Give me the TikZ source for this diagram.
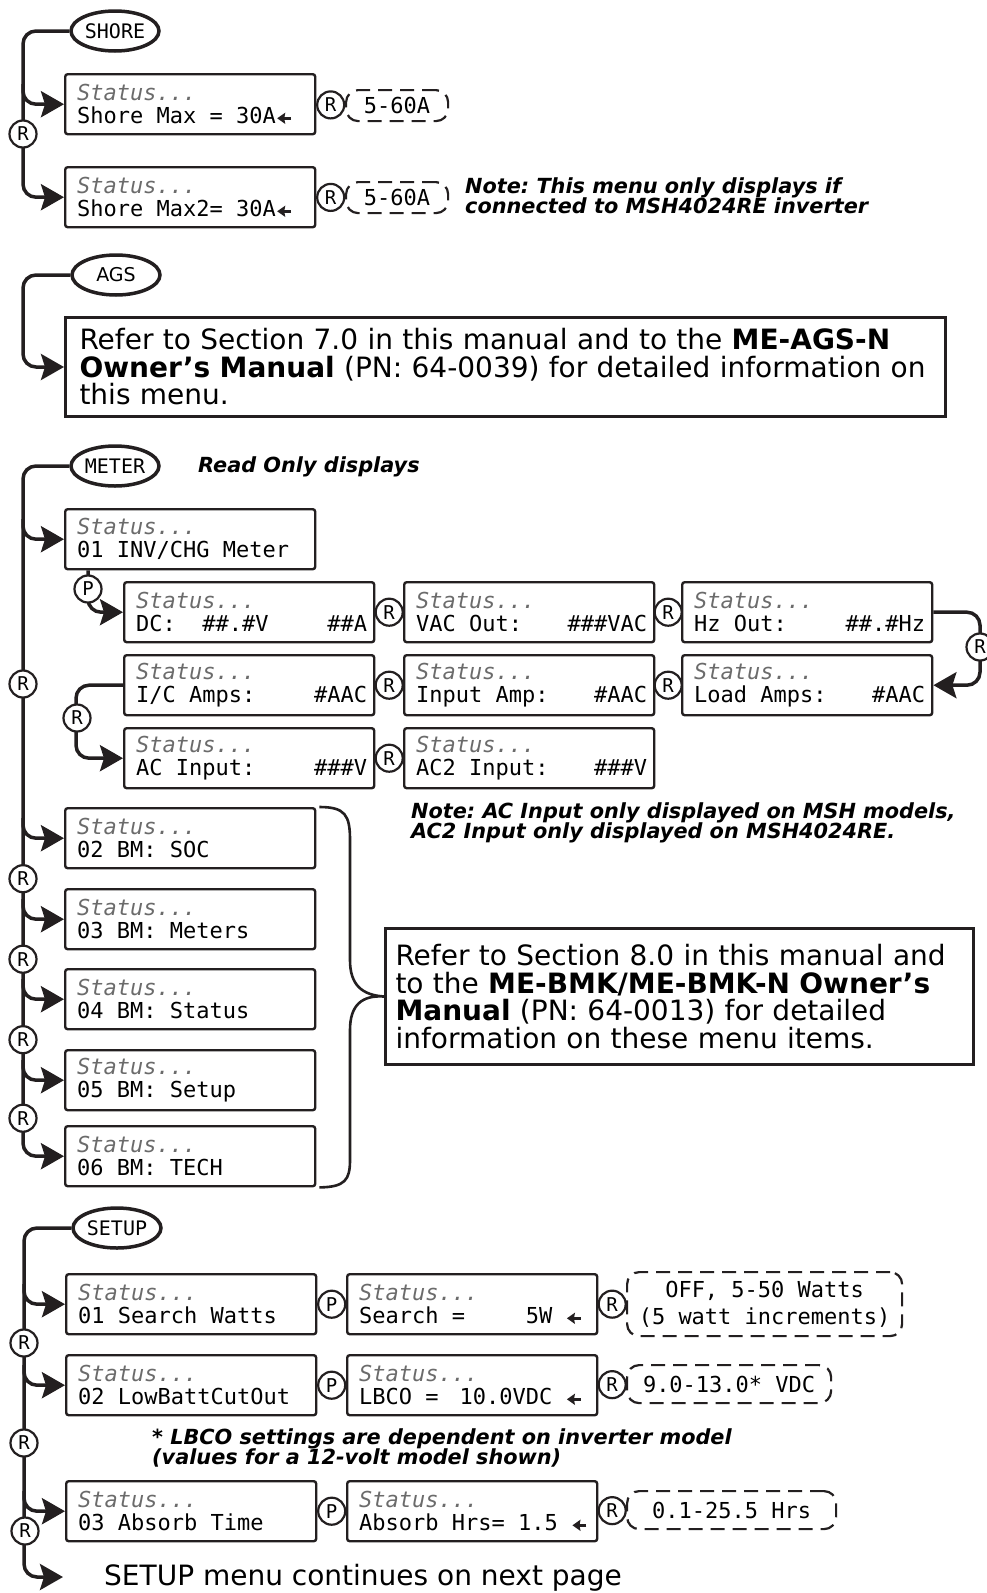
\documentclass[tikz,border=0pt]{standalone}
\usepackage{fontspec}
\setmainfont{DejaVu Sans}
\newfontfamily\lcd{DejaVu Sans Mono}
\newfontfamily\notefont{DejaVu Sans}
\usetikzlibrary{arrows.meta}
\usetikzlibrary{shapes.geometric}
\usetikzlibrary{calc}
\definecolor{ink}{HTML}{231F20}
\definecolor{stgray}{gray}{0.42}
\newcommand{\fixsp}{\spaceskip=13.25pt\xspaceskip=13.25pt\relax}
\newcommand{\statln}[1]{{\color{stgray}\itshape Status...}\\\fixsp#1}
\newcommand{\larr}{\tikz[baseline=-0.45ex]\draw[ink, line width=2.6pt, -{Stealth[length=8pt,width=11pt,inset=1pt]}] (14pt,0pt) -- (0pt,0pt);}
\newcommand{\lcdsize}{\lcd\fontsize{22}{23}\selectfont\frenchspacing}
\tikzset{stbox/.style = {draw=ink, line width=2.4pt, rounded corners=2.5pt,
                         anchor=north west, minimum width=250pt, minimum height=60pt,
                         text width=226pt, inner xsep=12pt, inner ysep=0pt,
                         align=left, font=\lcdsize}}
\tikzset{menu/.style = {draw=ink, ellipse, line width=3.5pt, minimum width=88pt,
                        minimum height=40pt, inner sep=0pt,
                        font=\lcd\fontsize{20}{20}\selectfont}}
\tikzset{btn/.style = {draw=ink, circle, fill=white, line width=2.2pt,
                       minimum size=27pt, inner sep=0pt,
                       font=\lcd\fontsize{19}{19}\selectfont}}
\tikzset{rngbox/.style = {draw=ink, dash pattern=on 14pt off 8pt, line width=2.2pt,
                          rounded corners=12pt, anchor=north west, inner sep=0pt,
                          align=center, font=\lcdsize\fontsize{22}{27}\selectfont}}
\tikzset{referbox/.style = {draw=ink, line width=3pt, anchor=north west,
                            inner xsep=14pt, inner ysep=0pt, align=left,
                            font=\fontsize{28}{27.5}\selectfont\frenchspacing}}
\tikzset{notetext/.style = {anchor=north west, inner sep=0pt, align=left,
                            font=\notefont\bfseries\itshape\fontsize{20.8}{20.5}\selectfont\frenchspacing}}
\tikzset{conn/.style = {draw=ink, line width=3.5pt, rounded corners=13pt}}
\tikzset{arr/.style = {-{Stealth[length=23pt,width=26pt,inset=4pt]}}}
\tikzset{brace/.style = {draw=ink, line width=2.6pt}}

\begin{document}
\begin{tikzpicture}[x=1pt,y=-1pt]
  \useasboundingbox (0,0) rectangle (987,1593);

  % SHORE
  \coordinate (sh0) at (23,0);
  \node[menu] (shore) at (115,31) {SHORE};
  \node[stbox] (shmax)  at (64,73)  {\statln{Shore Max = 30A\larr}};
  \node[stbox] (shmaxb) at (64,166) {\statln{Shore Max2= 30A\larr}};
  \node[rngbox, minimum width=102pt, minimum height=31pt] (shrng)  at (345,89)  {5-60A};
  \node[rngbox, minimum width=102pt, minimum height=31pt] (shrngb) at (345,181) {5-60A};
  \draw[conn, arr] (shore.west) -| (shmaxb.west -| sh0) -- (shmaxb.west);
  \draw[conn, arr] ($(shmax.west -| sh0)+(0,-20)$) |- (shmax.west);
  \node[btn] (shr) at (23,134) {R};
  \node[btn] (shra) at ($(shmax.east)!0.5!(shrng.west)$) {R};
  \node[btn] (shrb) at ($(shmaxb.east)!0.5!(shrngb.west)$) {R};
  \node[notetext] (shnote) at (465,177) {Note: This menu only displays if\\connected to MSH4024RE inverter};

  % AGS
  \node[menu, font=\fontsize{19}{19}\selectfont] (ags) at (116,275) {AGS};
  \node[referbox, minimum width=880pt, minimum height=99pt, text width=852pt] (agsref) at (64,316)
    {Refer to Section 7.0 in this manual and to the \textbf{ME-AGS-N}\\
     \textbf{Owner’s Manual} (PN: 64-0039) for detailed information on\\
     this menu.};
  \draw[conn, arr] (ags.west) -| (agsref.west -| sh0) -- (agsref.west);

  % METER
  \coordinate (mt0) at (23,0);
  \node[menu] (meter) at (115,466) {METER};
  \node[notetext, anchor=west] (ronly) at (198,467) {Read Only displays};
  \node[stbox] (inv)   at (64,508)   {\statln{01 INV/CHG Meter}};
  \node[stbox] (dc)    at (123,581)  {\statln{DC:\ \ \#\#.\#V\hfill\#\#A\kern-5pt}};
  \node[stbox] (vac)   at (403,581)  {\statln{VAC Out:\hfill\#\#\#VAC\kern-5pt}};
  \node[stbox] (hz)    at (681,581)  {\statln{Hz Out:\hfill\#\#.\#Hz\kern-5pt}};
  \node[stbox] (ica)   at (123,654)  {\statln{I/C Amps:\hfill\#AAC\kern-5pt}};
  \node[stbox] (inamp) at (403,654)  {\statln{Input Amp:\hfill\#AAC\kern-5pt}};
  \node[stbox] (load)  at (681,654)  {\statln{Load Amps:\hfill\#AAC\kern-5pt}};
  \node[stbox] (aci)   at (123,727)  {\statln{AC Input:\hfill\#\#\#V\kern-5pt}};
  \node[stbox] (ac2)   at (403,727)  {\statln{AC2 Input:\hfill\#\#\#V\kern-5pt}};
  \node[stbox] (soc)   at (64,807)   {\statln{02 BM: SOC}};
  \node[stbox] (bmm)   at (64,888)   {\statln{03 BM: Meters}};
  \node[stbox] (bms)   at (64,968)   {\statln{04 BM: Status}};
  \node[stbox] (bmset) at (64,1049)  {\statln{05 BM: Setup}};
  \node[stbox] (tech)  at (64,1125)  {\statln{06 BM: TECH}};
  \draw[conn, arr] (meter.west) -| (tech.west -| mt0) -- (tech.west);
  \foreach \b in {inv,soc,bmm,bms,bmset}
    \draw[conn, arr] ($(\b.west -| mt0)+(0,-20)$) |- (\b.west);
  \draw[conn, arr] ($(inv.south west)+(24,0)$) |- (dc.west);
  \node[btn] (pinv) at (88,589) {P};
  \coordinate (hzr) at (980,0);
  \draw[conn, arr] (hz.east) -| (load.east -| hzr) -- (load.east);
  \node[btn] (rhz) at (980,647) {R};
  \coordinate (icl) at (76,0);
  \draw[conn, arr] (ica.west) -| (aci.west -| icl) -- (aci.west);
  \node[btn] (rica) at (77,718) {R};
  \foreach \a/\b in {dc/vac, vac/hz, ica/inamp, inamp/load, aci/ac2}
    \node[btn] (r\a) at ($(\a.east)!0.5!(\b.west)$) {R};
  \node[btn] (rinv) at (23,684) {R};
  \foreach \a/\b in {soc/bmm, bmm/bms, bms/bmset, bmset/tech}
    \node[btn] (r\a) at ($(\a.south -| mt0)!0.5!(\b.north -| mt0)$) {R};
  \node[notetext] (acnote) at (411,802) {Note: AC Input only displayed on MSH models,\\AC2 Input only displayed on MSH4024RE.};
  \node[referbox, inner xsep=10pt, minimum width=588pt, minimum height=136pt, text width=568pt] (bmref) at (384,927)
    {Refer to Section 8.0 in this manual and\\
     to the \textbf{ME-BMK/ME-BMK-N Owner’s}\\
     \textbf{Manual} (PN: 64-0013) for detailed\\
     information on these menu items.};
  \coordinate (bt) at ($(soc.north east)+(3,0)$);
  \coordinate (bb) at ($(tech.south east)+(3,0)$);
  \draw[brace] (bt) .. controls (345,807) and (350,815) .. (350,840) -- (350,960)
    .. controls (350,985) and (362,995) .. (bmref.west)
    .. controls (362,995) and (350,1005) .. (350,1030) -- (350,1160)
    .. controls (350,1180) and (345,1187) .. (bb);

  % SETUP
  \coordinate (st0) at (24,0);
  \node[menu] (setup) at (117,1228) {SETUP};
  \node[stbox] (srch)  at (65,1273)  {\statln{01 Search Watts}};
  \node[stbox] (srchv) at (346,1273) {\statln{Search =\hfill 5W \larr\kern3pt}};
  \node[stbox] (lbco)  at (65,1354)  {\statln{02 LowBattCutOut}};
  \node[stbox] (lbcov) at (346,1354) {\statln{LBCO =\hfill 10.0VDC \larr\kern3pt}};
  \node[stbox] (absb)  at (65,1480)  {\statln{03 Absorb Time}};
  \node[stbox] (absbv) at (346,1480) {\statln{\makebox[226pt][l]{Absorb Hrs= 1.5 \larr}}};
  \node[rngbox, minimum width=275pt, minimum height=64pt] (srng) at (626,1271) {\fixsp OFF, 5-50 Watts\\\fixsp(5 watt increments)};
  \node[rngbox, minimum width=204pt, minimum height=38pt] (lrng) at (626,1364) {\fixsp 9.0-13.0* VDC};
  \node[rngbox, minimum width=209pt, minimum height=38pt] (arng) at (626,1490) {\fixsp 0.1-25.5 Hrs};
  \coordinate (nxt) at (63,1577);
  \draw[conn, arr] (setup.west) -| (nxt -| st0) -- (nxt);
  \foreach \b in {srch,lbco,absb}
    \draw[conn, arr] ($(\b.west -| st0)+(0,-20)$) |- (\b.west);
  \foreach \a/\b in {srch/srchv, lbco/lbcov, absb/absbv}
    \node[btn] (p\a) at ($(\a.east)!0.5!(\b.west)$) {P};
  \foreach \a/\b in {srchv/srng, lbcov/lrng, absbv/arng}
    \node[btn] (r\a) at ($(\a.east)!0.5!(\b.west)$) {R};
  \node[btn] (rsa) at (24,1343) {R};
  \node[btn] (rsb) at (24,1443) {R};
  \node[btn] (rsc) at (25,1531) {R};
  \node[notetext] (lbnote) at (152,1428) {* LBCO settings are dependent on inverter model\\(values for a 12-volt model shown)};
  \node[anchor=west, inner sep=0pt, font=\fontsize{28}{28}\selectfont] (cont) at (104,1578) {SETUP menu continues on next page};

\end{tikzpicture}
\end{document}
